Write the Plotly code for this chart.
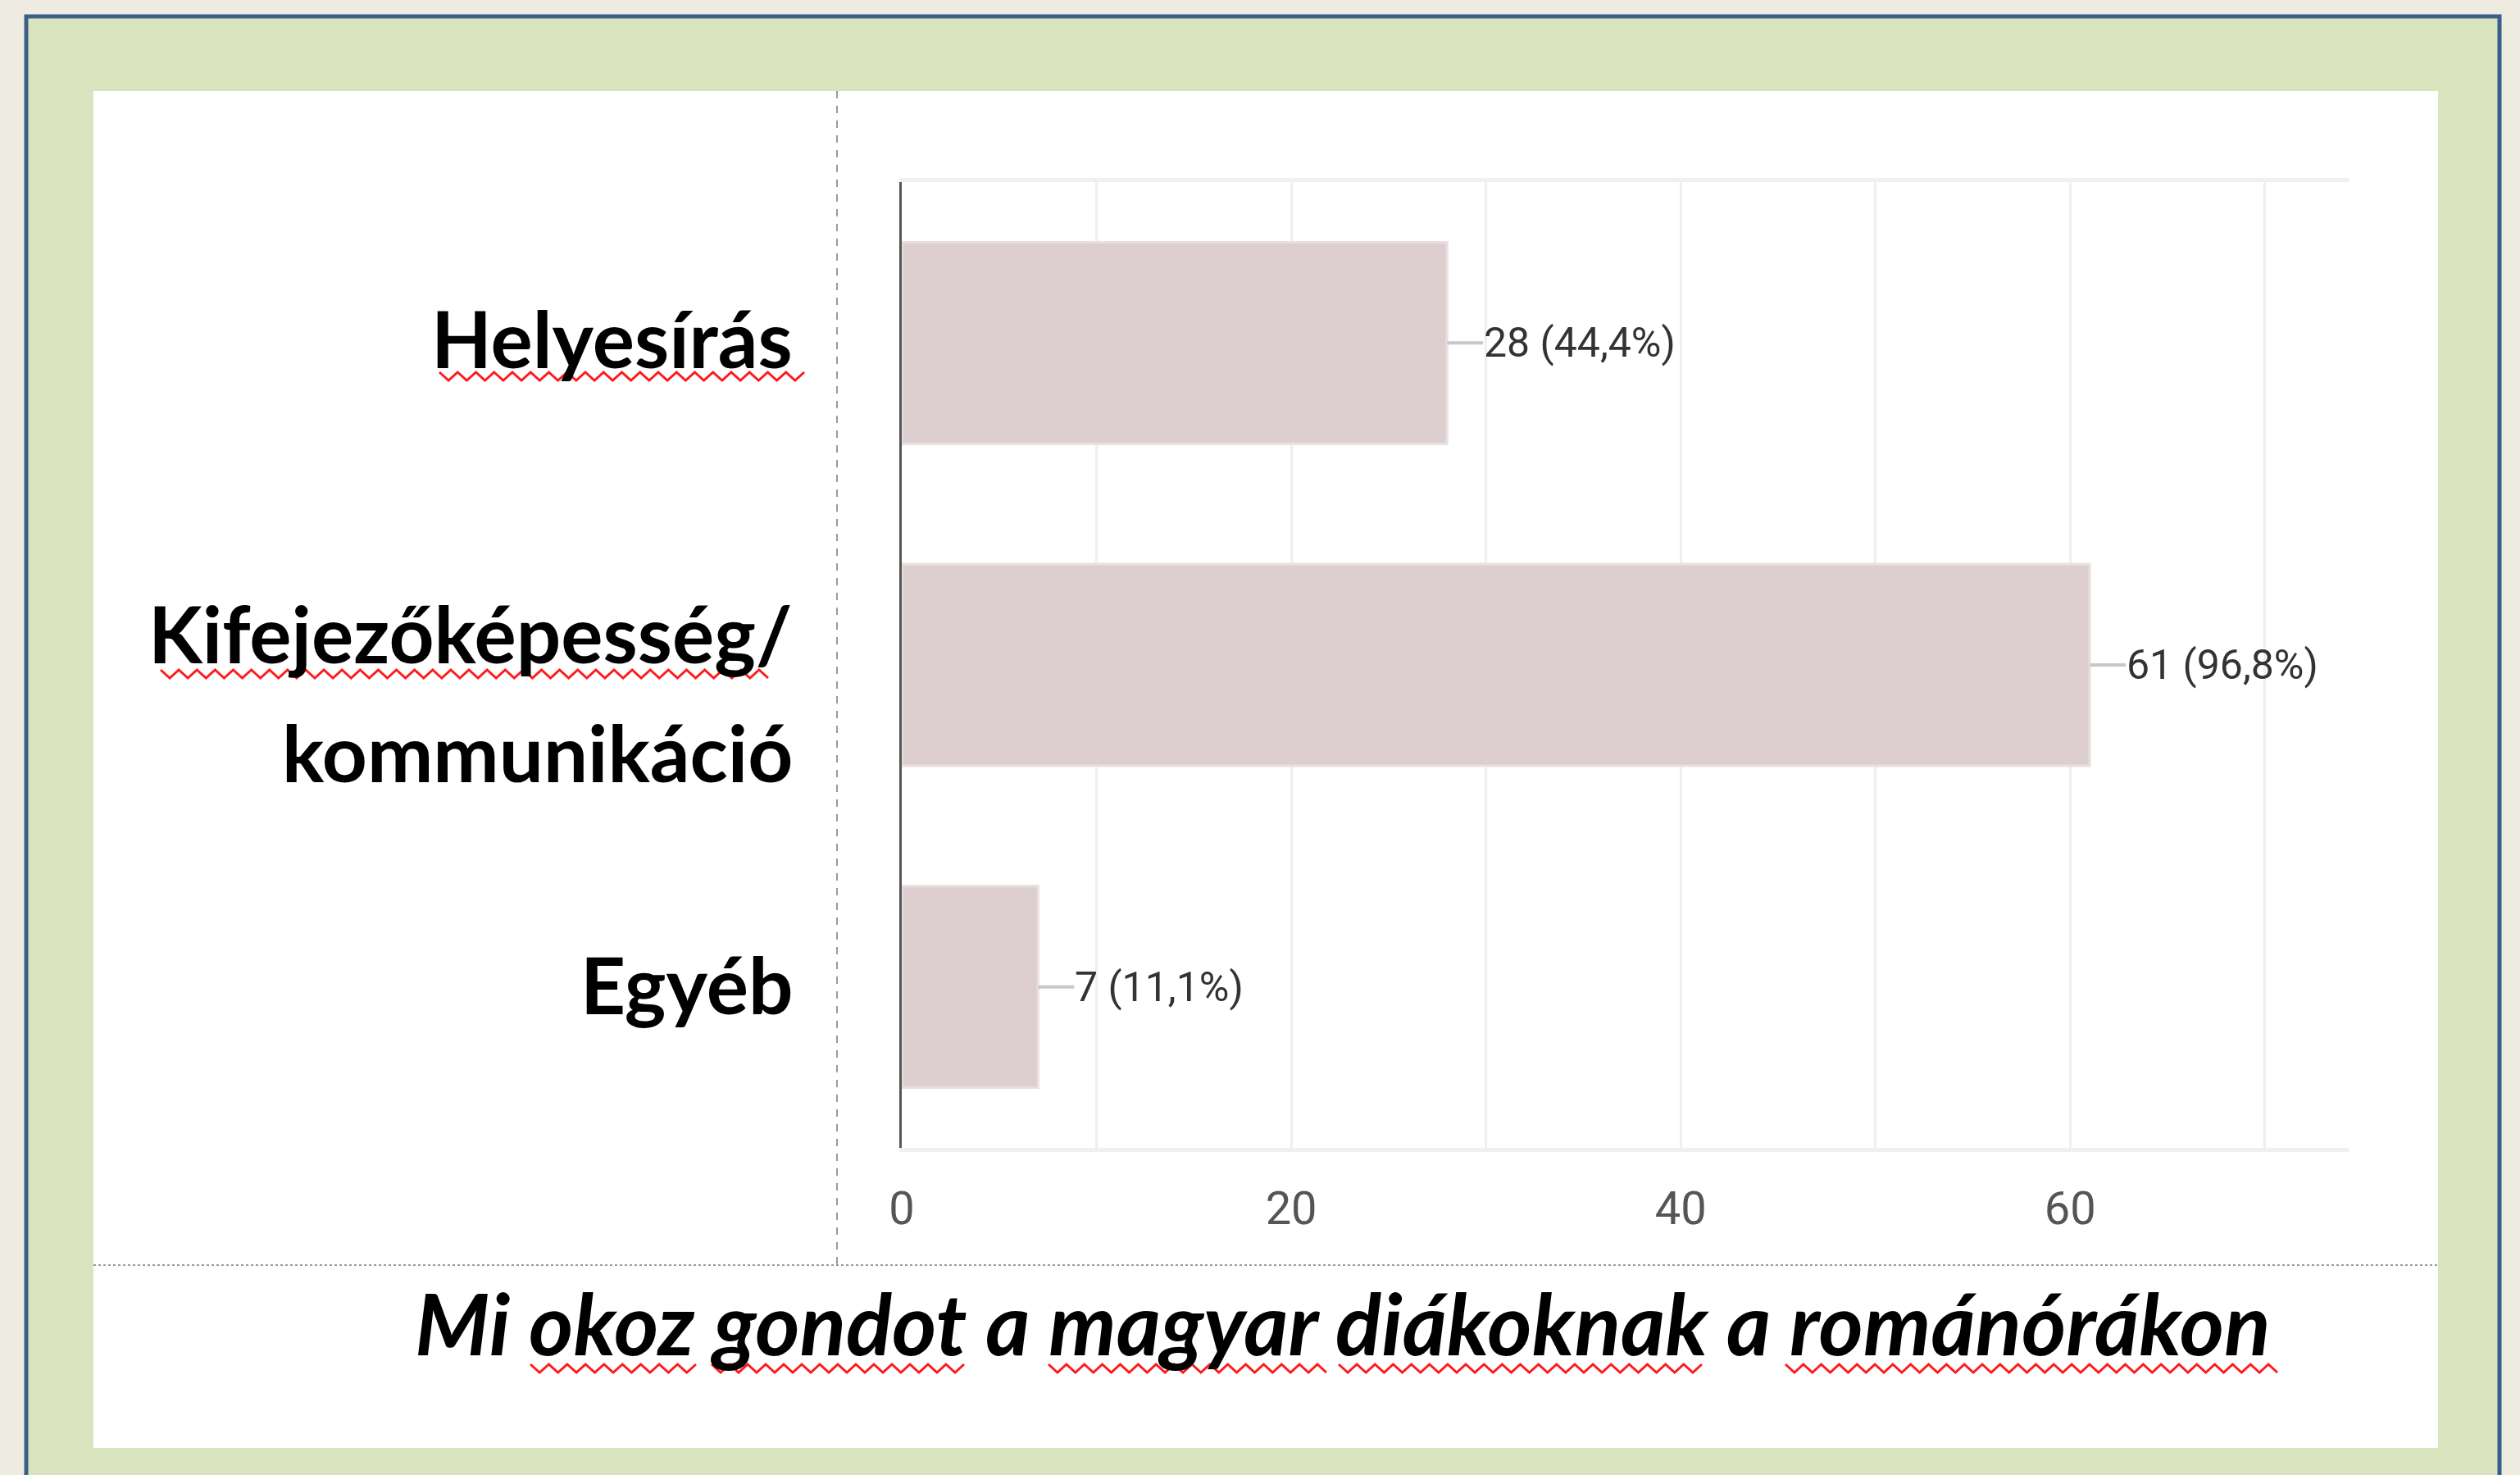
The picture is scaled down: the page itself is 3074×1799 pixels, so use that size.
import plotly.graph_objects as go

categories = ["Helyesírás", "Kifejezőképesség/<br>kommunikáció", "Egyéb"]
counts = [28, 61, 7]
percents = ["44,4%", "96,8%", "11,1%"]
x_tickvals = [0, 10, 20, 30, 40, 50, 60, 70]
x_ticktext = ["0", "", "20", "", "40", "", "60", ""]
title_text = "Mi okoz gondot a magyar diákoknak a románórákon"

W, H = 3074, 1799
L, R, T, B = 1100, 2865, 222, 1400  # plot area in px


def px(xp):
    return (xp - L) / (R - L)


def py(yp):
    return (B - yp) / (B - T)


def squiggle(x0, x1, yc, period=22, amp=5):
    """Red spell-check style wavy underline, as an SVG path in paper coords."""
    pts = []
    n = max(2, int(round((x1 - x0) / (period / 2))))
    for i in range(n + 1):
        xx = x0 + i * (x1 - x0) / n
        yy = yc + (amp if i % 2 else -amp)
        pts.append(f"{px(xx):.5f},{py(yy):.5f}")
    return "M " + " L ".join(pts)


NARROW = "Liberation Sans Narrow, Arial Narrow, Roboto, Liberation Sans, Arial, sans-serif"
BOLDF = "Lato, Open Sans, sans-serif"

fig = go.Figure()
fig.add_trace(go.Bar(
    x=counts, y=categories, orientation="h",
    width=0.626,
    marker=dict(color="#DDCFD0", line=dict(color="#E9DFE0", width=3)),
    hoverinfo="skip",
))

for c, v, p in zip(categories, counts, percents):
    fig.add_annotation(
        x=v, y=c, xref="x", yref="y",
        text=f"{v} ({p})",
        showarrow=True, arrowhead=0, arrowwidth=4, arrowcolor="#C8C8C8",
        ax=44, ay=0, xanchor="left", yanchor="middle",
        borderpad=0, standoff=0, startstandoff=0,
        font=dict(family=NARROW, size=50, color="#333333"),
    )

# category labels (each line placed separately to match the wide line spacing)
label_shifts = {0: [7], 1: [40, -105], 2: [4]}
for i, c in enumerate(categories):
    for line, ys in zip(c.split("<br>"), label_shifts[i]):
        fig.add_annotation(
            xref="paper", yref="y", x=px(968), y=c, yshift=ys,
            text=f"<b>{line}</b>", showarrow=False,
            xanchor="right", yanchor="middle", borderpad=0,
            font=dict(family=BOLDF, size=96, color="#000000"),
        )

shapes = [
    dict(type="rect", xref="paper", yref="paper",
         x0=px(32), x1=px(3049), y0=py(20), y1=py(1830),
         line=dict(color="#3B5E8C", width=5), fillcolor="#D9E4BF", layer="below"),
    dict(type="rect", xref="paper", yref="paper",
         x0=px(114), x1=px(2974), y0=py(111), y1=py(1766),
         line=dict(width=0), fillcolor="#FFFFFF", layer="below"),
    dict(type="line", xref="paper", yref="paper",
         x0=px(1021), x1=px(1021), y0=py(111), y1=py(1543),
         line=dict(color="#9A9A9A", width=2, dash="dash"), layer="above"),
    dict(type="line", xref="paper", yref="paper",
         x0=px(114), x1=px(2974), y0=py(1543), y1=py(1543),
         line=dict(color="#9A9A9A", width=2, dash="dot"), layer="above"),
]

# spell-check underlines (decoration)
underlines = [
    (536, 981, 459),     # Helyesírás
    (196, 937, 822),     # Kifejezőképesség
    (647, 849, 1669),    # okoz
    (868, 1176, 1669),   # gondot
    (1279, 1618, 1669),  # magyar
    (1633, 2076, 1669),  # diákoknak
    (2178, 2778, 1669),  # románórákon
]
for a, b, yc in underlines:
    shapes.append(dict(type="path", xref="paper", yref="paper",
                       path=squiggle(a, b, yc),
                       line=dict(color="#FF1A1A", width=3), layer="above"))

fig.add_annotation(
    xref="paper", yref="paper", x=px(1637), y=py(1612),
    text=f"<b><i>{title_text}</i></b>", showarrow=False,
    xanchor="center", yanchor="middle",
    font=dict(family=BOLDF, size=104, color="#000000"),
)

fig.update_layout(
    width=W, height=H,
    margin=dict(l=L, r=W - R, t=T, b=H - B, autoexpand=False),
    paper_bgcolor="#EEEBE0", plot_bgcolor="rgba(0,0,0,0)",
    showlegend=False, shapes=shapes,
    xaxis=dict(range=[0, 74.3], tickvals=x_tickvals, ticktext=x_ticktext,
               showgrid=True, gridcolor="#EFEFEF", gridwidth=3,
               zeroline=False, showline=True, linecolor="#F0F0F0", linewidth=5, mirror=True,
               ticks="", ticklabelstandoff=21,
               tickfont=dict(family=NARROW, size=56, color="#555555")),
    yaxis=dict(autorange="reversed", showgrid=False, zeroline=False,
               showline=True, linecolor="#555555", linewidth=3,
               ticks="", showticklabels=False),
)

fig.write_html("out.html", config={"displayModeBar": False},
               post_script="document.body.style.margin='0';document.body.style.overflow='hidden';")
